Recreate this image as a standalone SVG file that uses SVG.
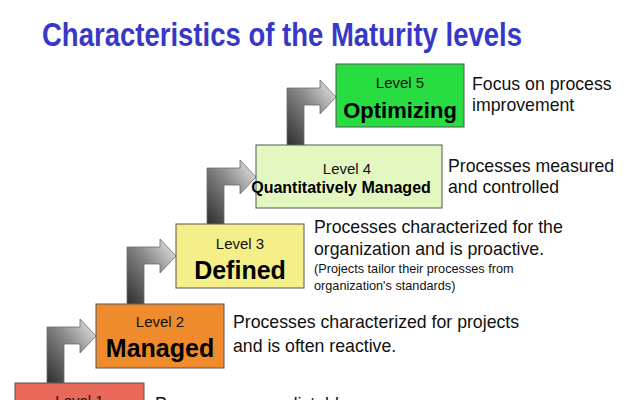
<svg xmlns="http://www.w3.org/2000/svg" width="640" height="400" viewBox="0 0 640 400">
<defs>
<linearGradient id="ag" x1="0" y1="1" x2="1" y2="0">
<stop offset="0" stop-color="#2e2e2e"/>
<stop offset="0.55" stop-color="#8a8a8a"/>
<stop offset="1" stop-color="#eeeeee"/>
</linearGradient>
<style>
.box{stroke:#555;stroke-width:1}
.arrow{fill:url(#ag);stroke:#6a6a6a;stroke-width:0.8}
.lv{font-family:"Liberation Sans",Arial,sans-serif;font-size:15px;fill:#111;text-anchor:middle}
.nm{font-family:"Liberation Sans",Arial,sans-serif;font-weight:bold;fill:#000;text-anchor:middle}
.d{font-family:"Liberation Sans",Arial,sans-serif;font-size:17.7px;fill:#111}
.s{font-family:"Liberation Sans",Arial,sans-serif;font-size:12.7px;fill:#111}
</style>
</defs>
<rect width="640" height="400" fill="#fff"/>
<text x="42" y="46" font-family="'Liberation Sans',Arial,sans-serif" font-weight="bold" font-size="34" fill="#3838c8" textLength="480" lengthAdjust="spacingAndGlyphs">Characteristics of the Maturity levels</text>
<g id="connectors">
<path class="arrow" d="M47,383 V327 H80 V319 L96,336 L80,353 V344 H64 V383 Z"/>
<path class="arrow" d="M127,304 V247 H160 V239 L176,256 L160,273 V264 H144 V304 Z"/>
<path class="arrow" d="M207,224 V168 H240 V160 L256,177 L240,194 V185 H224 V224 Z"/>
<path class="arrow" d="M287,145 V88 H320 V80 L336,97 L320,114 V105 H304 V145 Z"/>
</g>
<g id="level1">
<rect class="box" x="15" y="383" width="129" height="64" fill="#e8695a"/>
<text class="lv" x="79.5" y="406">Level 1</text>
<text class="d" x="155" y="410">Processes unpredictable</text>
</g>
<g id="level2">
<rect class="box" x="96" y="304" width="128" height="64" fill="#ef8b2c"/>
<text class="lv" x="160" y="327">Level 2</text>
<text class="nm" x="160" y="357" font-size="25">Managed</text>
<text class="d" x="233" y="328">Processes characterized for projects</text>
<text class="d" x="233" y="352">and is often reactive.</text>
</g>
<g id="level3">
<rect class="box" x="176" y="224" width="128" height="64" fill="#f5ef8a"/>
<text class="lv" x="240" y="249">Level 3</text>
<text class="nm" x="240" y="279" font-size="25">Defined</text>
<text class="d" x="314" y="233">Processes characterized for the</text>
<text class="d" x="314" y="255">organization and is proactive.</text>
<text class="s" x="314" y="273">(Projects tailor their processes from</text>
<text class="s" x="314" y="290">organization's standards)</text>
</g>
<g id="level4">
<rect class="box" x="256" y="145" width="186" height="63" fill="#e3f8c0"/>
<text class="lv" x="347" y="174" font-size="14">Level 4</text>
<text class="nm" x="341" y="193" font-size="16">Quantitatively Managed</text>
<text class="d" x="448" y="172">Processes measured</text>
<text class="d" x="448" y="193">and controlled</text>
</g>
<g id="level5">
<rect class="box" x="336" y="64" width="128" height="63" fill="#27dd42"/>
<text class="lv" x="400" y="88">Level 5</text>
<text class="nm" x="400" y="118" font-size="22">Optimizing</text>
<text class="d" x="472" y="90">Focus on process</text>
<text class="d" x="472" y="111">improvement</text>
</g>
</svg>
